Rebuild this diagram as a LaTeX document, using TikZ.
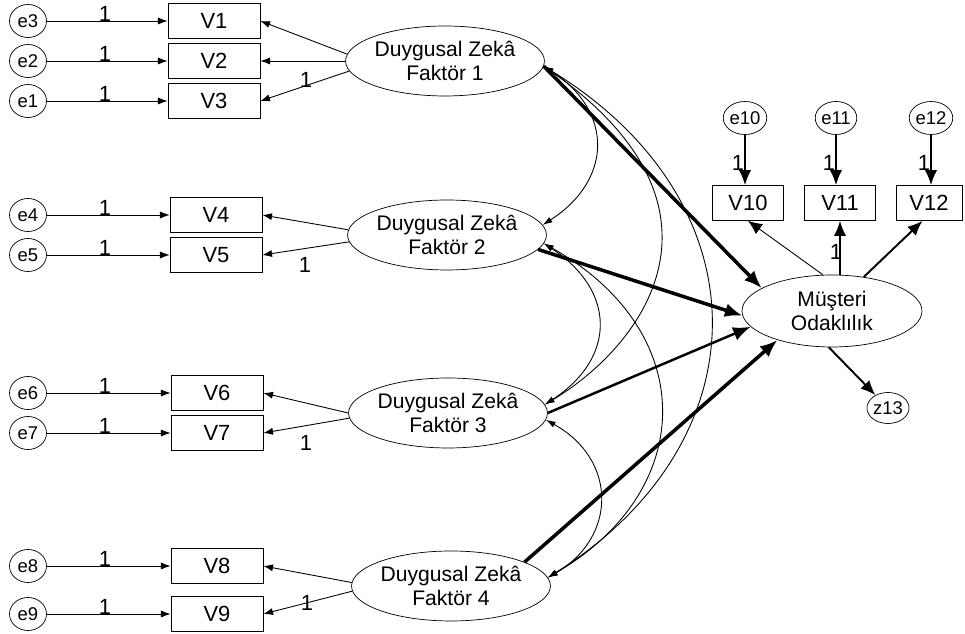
\documentclass[tikz,border=0pt]{standalone}
\usepackage{fontspec}
\setmainfont{Liberation Sans}
\usetikzlibrary{shapes.geometric,arrows.meta}

\begin{document}
\begin{tikzpicture}[x=0.02cm,y=-0.02cm,
  obs/.style={draw,rectangle,minimum width=1.84cm,minimum height=0.7cm,inner sep=0pt,font=\fontsize{12.5}{14}\selectfont},
  obsr/.style={obs,minimum width=1.42cm},
  err/.style={draw,ellipse,minimum width=0.74cm,minimum height=0.66cm,inner sep=0pt,font=\fontsize{10.5}{12}\selectfont},
  lat/.style={draw,ellipse,minimum width=3.72cm,minimum height=1.4cm,inner sep=0pt,align=center,font=\fontsize{12}{13.6}\selectfont},
  one/.style={inner sep=0pt,font=\fontsize{12.5}{14}\selectfont},
  loadarr/.style={line width=0.5pt,-{Latex[length=5.5pt,width=4pt]}},
  covarr/.style={line width=0.5pt,{Latex[length=5.5pt,width=3.5pt]}-{Latex[length=5.5pt,width=3.5pt]}},
  indarr/.style={line width=1.1pt,-{Latex[length=8.5pt,width=7pt]}},
  patharr/.style={line width=2pt,-{Latex[length=10pt,width=8pt]}}]
\useasboundingbox (0,0) rectangle (965,634);
% 左边的观测变量
\foreach \e/\v/\y/\x in {3/1/21/214,2/2/61/214,1/3/101/214,4/4/215/216,5/5/255/216,6/6/393/217,7/7/433/217,8/8/566/217,9/9/614/217} {
    \node (e\e) at (28,\y) [err] {e\e};
    \node (V\v) at (\x,\y) [obs] {V\v};
    \draw[loadarr] (e\e) -- (V\v);
    \node (o\e) at (105,\y-7) [one] {1}; % 线上方的 1
}
% 四个因子
\foreach \i/\x/\y in {1/445/61,2/447/235,3/448/413,4/451/586} {
    \node (F\i) at (\x,\y) [lat] {Duygusal Zekâ\\Faktör \i};
}
\draw[loadarr] (F1.176) -- (V1.east);
\draw[loadarr] (F1.180) -- (V2.east);
\draw[loadarr] (F1.186) -- (V3.east);
\draw[loadarr] (F2.177) -- (V4.east);
\draw[loadarr] (F2.184) -- (V5.east);
\draw[loadarr] (F3.180) -- (V6.east);
\draw[loadarr] (F3.183) -- (V7.east);
\draw[loadarr] (F4.178) -- (V8.east);
\draw[loadarr] (F4.183) -- (V9.east);
\node (l1) at (306,80) [one] {1};
\node (l2) at (305,265) [one] {1};
\node (l3) at (306,443) [one] {1};
\node (l4) at (307,603) [one] {1};
% 协方差
\draw[covarr] (F1.-3) .. controls +(70,45) and +(70,-45) .. (F2.6);
\draw[covarr] (F1.-3) .. controls +(201,141) and +(100,-60) .. (F3.5);
\draw[covarr] (F1.-3) .. controls +(222,136) and +(217,-136) .. (F4.5);
\draw[covarr] (F2.-5) .. controls +(72,47) and +(72,-47) .. (F3.5);
\draw[covarr] (F2.-5) .. controls +(155,87) and +(151,-88) .. (F4.5);
\draw[covarr] (F3.-4) .. controls +(72,40) and +(69,-40) .. (F4.5);
% 右边
\node (M) at (832,311) [lat,minimum width=3.6cm,minimum height=1.44cm] {Müşteri\\Odaklılık};
\node (V10) at (748,203) [obsr] {V10};
\node (V11) at (840,203) [obsr] {V11};
\node (V12) at (929,203) [obsr,minimum width=1.32cm] {V12};
\foreach \i/\x in {10/745,11/836,12/931} {
    \node (e\i) at (\x,118) [err] {e\i};
    \draw[indarr] (e\i) -- (e\i |- V\i.north);
    \node (o\i) at (\x-7,163) [one] {1};
}
\node (z13) at (888,408) [err,minimum width=0.64cm,minimum height=0.62cm] {z13};
\draw[loadarr,-{Latex[length=8pt,width=7pt]}] (M.104) -- (V10.south);
\draw[indarr] (M.north -| V11.south) -- (V11.south);
\node (o13) at (836,252) [one] {1};
\draw[indarr] (M.47) -- (V12.-110);
\draw[indarr] (M.265) -- (z13);
% 粗箭头
\draw[patharr] (F1.-3) -- (M.162);
\draw[patharr] (F2.-9) -- (M.183);
\draw[patharr,line width=1.4pt] (F3.0) -- (M.191);
\draw[patharr] (F4.18) -- (M.208);
\end{tikzpicture}
\end{document}
